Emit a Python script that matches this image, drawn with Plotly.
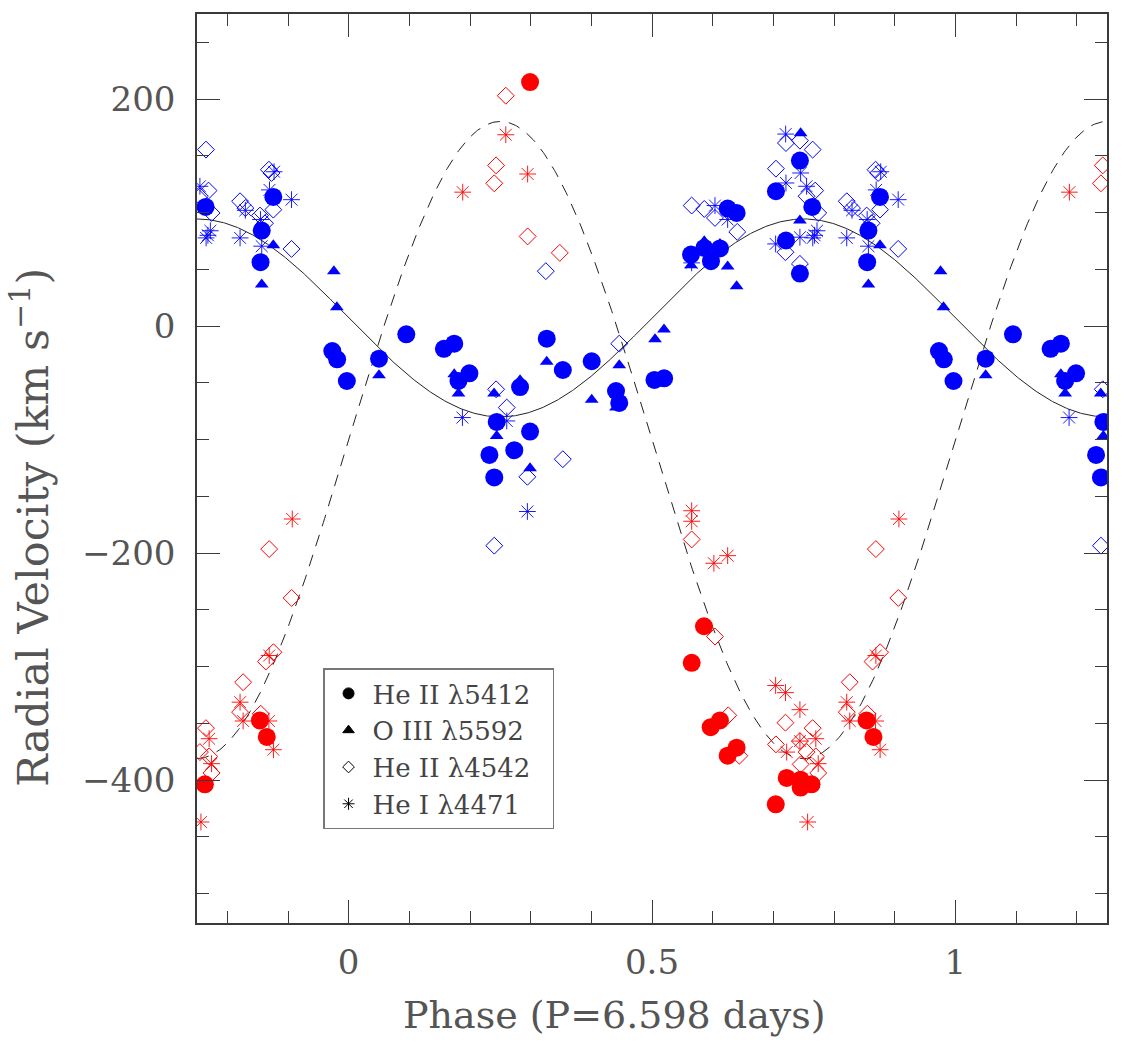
import numpy as np
import plotly.graph_objects as go

# ---------------- data (orbital phase in [0,1), radial velocity km/s) ----------------
# Primary star (blue)
prim_heii5412_phase = [0.973, 0.981, 0.997, 0.050, 0.095, 0.157, 0.174, 0.199, 0.181, 0.244,
                       0.232, 0.240, 0.273, 0.299, 0.2825, 0.3265, 0.353, 0.4006, 0.4407, 0.446,
                       0.504, 0.520, 0.6247, 0.6395, 0.5862, 0.612, 0.5643, 0.5972, 0.7438, 0.7043,
                       0.7642, 0.7208, 0.7438, 0.8758, 0.8567, 0.8547]
prim_heii5412_v = [-22, -29.3, -48.4, -28.7, -7.3, -20, -15.5, -41.6, -48.4, -84.5,
                   -113.5, -133.4, -109.4, -93, -53.7, -11.1, -38.7, -31, -57.2, -67.7,
                   -47.5, -46, 103.5, 99.7, 68.9, 68.4, 63, 57.2, 145.8, 118.8,
                   105, 75.4, 46.3, 113.8, 84.2, 56.3]

prim_oiii5592_phase = [0.9805, 0.9756, 0.050, 0.174, 0.181, 0.2397, 0.244, 0.299, 0.2825, 0.3265,
                       0.4006, 0.446, 0.4407, 0.5198, 0.505, 0.6395, 0.5862, 0.612, 0.5643, 0.6247,
                       0.745, 0.7438, 0.8758, 0.8567]
prim_oiii5592_v = [16.5, 48.4, -43.4, -42.5, -59.5, -59.5, -96.8, -125.2, -47.8, -31.4,
                   -65, -34.6, -71.8, -3, -11.7, 35.2, 74.8, 72.3, 53.7, 52.5,
                   170, 93, 71.3, 36.7]

prim_heii4542_phase = [0.243, 0.2606, 0.2946, 0.325, 0.353, 0.446, 0.240, 0.5654, 0.5862, 0.6038,
                       0.6405, 0.7208, 0.7438, 0.7648, 0.7043, 0.7548, 0.769, 0.774, 0.720, 0.7438,
                       0.821, 0.8297, 0.8685, 0.8728, 0.8758, 0.8538, 0.862, 0.9058]
prim_heii4542_v = [-55.7, -71.8, -132.8, 48.4, -117.3, -15.5, -193.5, 106.2, 103.2, 95.3,
                   83, 161.3, 163.4, 155.5, 138.7, 114.4, 119.4, 99.7, 65.1, 54.8,
                   110, 104, 137.8, 134.9, 102.6, 97.4, 90.6, 68]

prim_hei4471_phase = [0.1875, 0.2606, 0.2946, 0.5654, 0.6038, 0.6247, 0.7203, 0.745, 0.7208, 0.7548,
                      0.7438, 0.765, 0.772, 0.768, 0.7038, 0.8297, 0.821, 0.877, 0.8695, 0.9058,
                      0.8547, 0.8567]
prim_hei4471_v = [-80.6, -83.6, -163.4, 55.7, 106.2, 93.9, 169.2, 134.9, 126.1, 123.2,
                  78.3, 77.7, 84, 80, 72.4, 102, 77.7, 136, 120, 111.4,
                  93.9, 70.4]

# Secondary star (red)
sec_heii5412_phase = [0.299, 0.5857, 0.5654, 0.612, 0.5967, 0.6395, 0.6247, 0.8537, 0.865, 0.722,
                      0.745, 0.763, 0.745, 0.704]
sec_heii5412_v = [215, -264.5, -296.7, -347.5, -353.4, -371.5, -378.6, -347.5, -362, -398.2,
                  -399.7, -403.8, -406.7, -421.4]

sec_heii4542_phase = [0.259, 0.243, 0.240, 0.295, 0.348, 0.5654, 0.6038, 0.6257, 0.644, 0.869,
                      0.906, 0.8635, 0.876, 0.826, 0.821, 0.855, 0.720, 0.7648, 0.7043, 0.7438,
                      0.7548, 0.770, 0.745, 0.774]
sec_heii4542_v = [203, 141.6, 125.8, 79, 64.5, -188, -273.6, -343, -378.6, -196.5,
                  -239.6, -295.6, -287.4, -313.8, -340.2, -341.6, -349.5, -354.3, -368.6, -365.7,
                  -375.4, -379.2, -386.2, -393.8]

sec_hei4471_phase = [0.259, 0.188, 0.295, 0.5654, 0.5654, 0.602, 0.6247, 0.907, 0.869, 0.821,
                     0.826, 0.8685, 0.876, 0.7038, 0.720, 0.7438, 0.722, 0.7438, 0.770, 0.774,
                     0.7565]
sec_hei4471_v = [168.6, 118, 134, -162.7, -172, -209, -202.3, -170, -290.3, -331.4,
                 -348, -348, -373.3, -316.7, -323, -338, -375.4, -365.7, -363.6, -385.6,
                 -437]

# orbital solution (sine curves)
GAMMA_PRIM, K_PRIM = 7.2, 87.2
GAMMA_SEC, K_SEC = -100.4, 280.7

legend_names = ["He II \u03bb5412", "O III \u03bb5592", "He II \u03bb4542", "He I \u03bb4471"]
x_title = "Phase (P=6.598 days)"
y_title = "Radial Velocity (km s<sup>\u22121</sup>)"

XMIN, XMAX = -0.25, 1.25
YMIN, YMAX = -526, 275
BLUE = "#0000ff"
RED = "#ff0000"
TXT = "#555555"
AX = "#3a3a3a"
FONT = "DejaVu Serif"


def wrap(phase, v):
    ph = np.asarray(phase, float)
    vv = np.asarray(v, float)
    xs, ys = [], []
    for sh in (-1, 0, 1):
        x = ph + sh
        m = (x >= XMIN) & (x <= XMAX)
        xs.append(x[m]); ys.append(vv[m])
    return np.concatenate(xs), np.concatenate(ys)


fig = go.Figure()

grid = np.linspace(XMIN, XMAX, 721)
fig.add_trace(go.Scatter(x=grid, y=GAMMA_PRIM - K_PRIM * np.sin(2 * np.pi * grid), mode="lines",
                         line=dict(color="#222222", width=1), showlegend=False, hoverinfo="skip"))
fig.add_trace(go.Scatter(x=grid, y=GAMMA_SEC + K_SEC * np.sin(2 * np.pi * grid), mode="lines",
                         line=dict(color="#222222", width=1, dash="12px,9px"), showlegend=False,
                         hoverinfo="skip"))


def add_points(phase, v, color, symbol, size, lw=1.0):
    x, y = wrap(phase, v)
    fig.add_trace(go.Scatter(x=x, y=y, mode="markers", showlegend=False,
                             marker=dict(symbol=symbol, size=size, color=color,
                                         line=dict(color=color, width=lw))))


for col, sets in ((BLUE, (prim_heii4542_phase, prim_heii4542_v, prim_hei4471_phase, prim_hei4471_v,
                          prim_oiii5592_phase, prim_oiii5592_v, prim_heii5412_phase, prim_heii5412_v)),
                  (RED, (sec_heii4542_phase, sec_heii4542_v, sec_hei4471_phase, sec_hei4471_v,
                         None, None, sec_heii5412_phase, sec_heii5412_v))):
    d_ph, d_v, s_ph, s_v, t_ph, t_v, c_ph, c_v = sets
    add_points(d_ph, d_v, col, "diamond-open", 13, 1.0)
    add_points(s_ph, s_v, col, "asterisk-open", 14, 0.9)
    if t_ph is not None:
        add_points(t_ph, t_v, col, "triangle-up", 12, 0)
    add_points(c_ph, c_v, col, "circle", 18, 0)

# legend entries (black symbols)
leg_syms = [("circle", 11), ("triangle-up", 10), ("diamond-open", 9), ("asterisk-open", 10)]
for name, (sym, sz) in zip(legend_names, leg_syms):
    fig.add_trace(go.Scatter(x=[None], y=[None], mode="markers", name=name + "\u2007",
                             marker=dict(symbol=sym, size=sz, color="black",
                                         line=dict(color="black", width=1))))

axis_common = dict(showgrid=False, zeroline=False, showline=True, linecolor=AX, linewidth=1.5,
                   ticks="inside", ticklen=23, tickwidth=1.3, tickcolor=AX, mirror="allticks",
                   tickfont=dict(family=FONT, size=34, color=TXT))

fig.update_layout(
    width=1125, height=1042,
    margin=dict(l=197, r=18, t=12, b=119),
    paper_bgcolor="white", plot_bgcolor="white",
    font=dict(family=FONT, color=TXT),
    xaxis=dict(range=[XMIN, XMAX], tickvals=[0, 0.5, 1], ticktext=["0", "0.5", "1"],
               minor=dict(dtick=0.1, tick0=0, ticks="inside", ticklen=12, tickwidth=1.3, tickcolor=AX),
               ticklabelstandoff=8,
               **axis_common),
    yaxis=dict(range=[YMIN, YMAX], tickvals=[-400, -200, 0, 200],
               minor=dict(dtick=50, tick0=0, ticks="inside", ticklen=12, tickwidth=1.3, tickcolor=AX),
               ticklabelstandoff=13,
               **axis_common),
    legend=dict(x=0.1385, y=0.28, xanchor="left", yanchor="top", bgcolor="white",
                bordercolor="#777777", borderwidth=1.5, itemwidth=38,
                font=dict(family=FONT, size=26, color="#444444"), tracegroupgap=0),
    showlegend=True,
    annotations=[
        dict(text=x_title, xref="paper", yref="paper", x=0.4593, y=-0.101,
             xanchor="center", yanchor="middle", showarrow=False,
             font=dict(family=FONT, size=38, color=TXT)),
        dict(text=y_title, xref="paper", yref="paper", x=-0.1835, y=0.4347,
             xanchor="center", yanchor="middle", showarrow=False, textangle=-90,
             font=dict(family=FONT, size=43, color=TXT)),
    ],
)

fig.write_html("out.html")
